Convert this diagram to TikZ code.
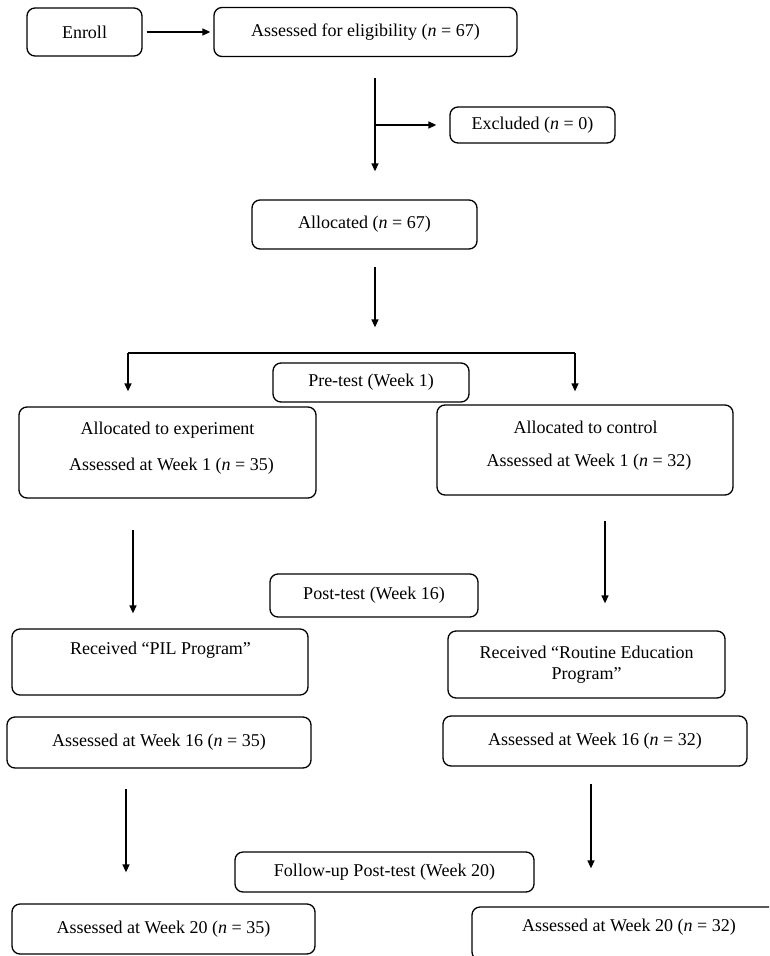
\documentclass[tikz,border=0pt]{standalone}
\usepackage{fontspec}
\setmainfont{Liberation Serif}
\usetikzlibrary{arrows.meta}
\tikzset{
  box/.style={draw, rounded corners=8pt, line width=1.3pt, inner sep=0pt, align=center},
  txt/.style={inner sep=0pt, align=center},
  arr/.style={-{Triangle[length=8pt,width=7pt]}, line width=1.3pt},
  ln/.style={line width=1.3pt},
}
\begin{document}
\begin{tikzpicture}[x=1pt,y=-1pt, every node/.style={font=\fontsize{18}{21}\selectfont}]
\useasboundingbox (0,0) rectangle (769,956);
\clip (0,0) rectangle (769,956);
% boxes
\node[box, minimum width=115, minimum height=48] (enroll) at (84.5,32) {Enroll};
\node[box, minimum width=303, minimum height=49] (elig) at (365.5,32) {Assessed for eligibility (\textit{n} = 67)};
\node[box, minimum width=165, minimum height=36] (excl) at (532.5,125) {Excluded (\textit{n} = 0)};
\node[box, minimum width=225, minimum height=49] (alloc) at (364.5,224.5) {Allocated (\textit{n} = 67)};
\node[box, minimum width=196, minimum height=39] (pre) at (371,382.5) {Pre-test (Week 1)};
\node[box, minimum width=297, minimum height=91] (exp) at (167.5,452.5) {};
\node[txt] (expa) at (167.5,430) {Allocated to experiment};
\node[txt] (expb) at (171.5,466) {Assessed at Week 1 (\textit{n} = 35)};
\node[box, minimum width=296, minimum height=90] (ctl) at (585,450) {};
\node[txt] (ctla) at (585.5,427) {Allocated to control};
\node[txt] (ctlb) at (589,462) {Assessed at Week 1 (\textit{n} = 32)};
\node[box, minimum width=208, minimum height=43] (post) at (374,595.5) {Post-test (Week 16)};
\node[box, minimum width=296, minimum height=66] (pil) at (160,662) {};
\node[txt] (pilt) at (160.5,650) {Received “PIL Program”};
\node[box, minimum width=277, minimum height=67] (rout) at (586.5,664.5) {Received “Routine Education\\Program”};
\node[box, minimum width=304, minimum height=51] (wl16) at (159,742.5) {Assessed at Week 16 (\textit{n} = 35)};
\node[box, minimum width=304, minimum height=50] (wr16) at (595,741) {Assessed at Week 16 (\textit{n} = 32)};
\node[box, minimum width=299, minimum height=40] (fol) at (384.5,872) {Follow-up Post-test (Week 20)};
\node[box, minimum width=303, minimum height=50] (wl20) at (163.5,929) {Assessed at Week 20 (\textit{n} = 35)};
\node[box, minimum width=314, minimum height=53] (wr20) at (629,933.5) {};
\node[txt] (wr20t) at (629,927) {Assessed at Week 20 (\textit{n} = 32)};
% connectors
\draw[arr, shorten <=4pt, shorten >=3pt] (enroll.east) -- (enroll.east -| elig.west);
\coordinate (v1) at (375,78);
\coordinate (b1) at (375,125);
\draw[arr, shorten >=28pt] (v1) -- (v1 |- alloc.north);
\draw[arr, shorten >=13pt] (b1) -- (b1 -| excl.west);
\coordinate (v2) at (375,267);
\draw[arr, shorten >=35pt] (v2) -- (v2 |- pre.north);
\coordinate (bl) at (128,353);
\coordinate (br) at (575,353);
\draw[ln] (bl) -- (br);
\draw[arr, shorten >=15pt] (bl) -- (bl |- exp.north);
\draw[arr, shorten >=13pt] (br) -- (br |- ctl.north);
\coordinate (a3) at (133,530);
\draw[arr, shorten >=15pt] (a3) -- (a3 |- pil.north);
\coordinate (a4) at (605,521);
\draw[arr, shorten >=27pt] (a4) -- (a4 |- rout.north);
\coordinate (a5) at (126,789);
\draw[arr, shorten >=31pt] (a5) -- (a5 |- wl20.north);
\coordinate (a6) at (591,784);
\draw[arr, shorten >=38pt] (a6) -- (a6 |- wr20.north);
\end{tikzpicture}
\end{document}
